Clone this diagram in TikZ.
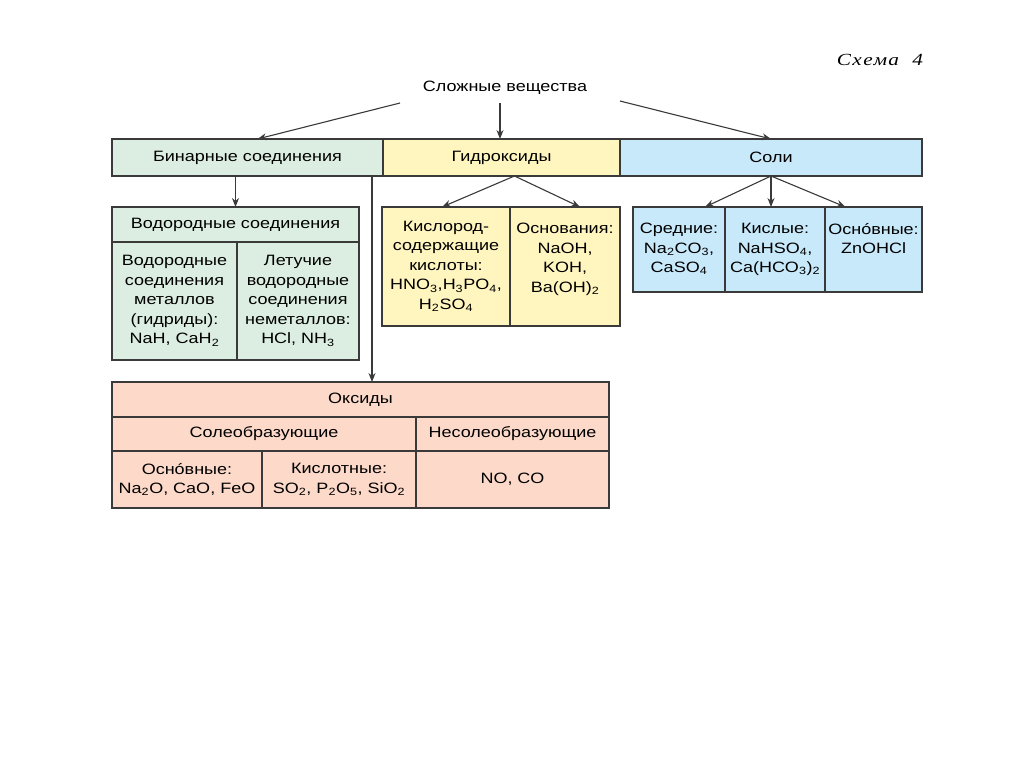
\documentclass[tikz,border=0pt]{standalone}
\usepackage{fontspec}
\setmainfont{Liberation Sans}[FakeStretch=1.2]
\newfontfamily\schemafont{Liberation Serif}[FakeStretch=1.25, LetterSpace=8]
\usetikzlibrary{arrows.meta}

\definecolor{binfill}{HTML}{DCEEE1}
\definecolor{hydfill}{HTML}{FFF5BE}
\definecolor{solfill}{HTML}{C8E9FA}
\definecolor{oksfill}{HTML}{FCD9C9}
\definecolor{edgegray}{HTML}{3A3A3A}

\newcommand{\subidx}[1]{\textsubscript{#1}}

\tikzset{
  cell/.style={draw=edgegray, line width=1.3pt, inner sep=0pt, outer sep=0pt, anchor=north west, align=center},
  txt/.style={align=center, inner sep=0pt},
  arr/.style={-{Stealth[length=9pt,width=7pt]}, line width=1.1pt, draw=edgegray},
}

\begin{document}
\begin{tikzpicture}[x=1pt, y=-1pt, font=\fontsize{15}{19.5}\selectfont]
  \useasboundingbox[fill=white] (0,0) rectangle (1024,768);

  \node[txt] (schema) at (880,60) {\schemafont\itshape\fontsize{17}{20}\selectfont Схема\ \ 4};
  \node[txt] (slozh) at (505,88) {Сложные вещества};

  % top row
  \node[cell, minimum width=271pt, minimum height=37pt] (bin) at (112,139) [fill=binfill] {Бинарные соединения};
  \node[cell, minimum width=237pt, minimum height=37pt] (hyd) at (383,139) [fill=hydfill] {Гидроксиды};
  \node[cell, minimum width=302pt, minimum height=37pt] (sol) at (620,139) [fill=solfill] {Соли};

  % binary compounds
  \node[cell, minimum width=247pt, minimum height=35pt] (vodh) at (112,207) [fill=binfill] {Водородные соединения};
  \node[cell, minimum width=125pt, minimum height=118pt] (vodm) at (112,242) [fill=binfill] {Водородные\\соединения\\металлов\\(гидриды):\\NaH,\ CaH\subidx{2}};
  \node[cell, minimum width=122pt, minimum height=118pt] (letn) at (237,242) [fill=binfill] {Летучие\\водородные\\соединения\\неметаллов:\\HCl,\ NH\subidx{3}};

  % hydroxides
  \node[cell, minimum width=128pt, minimum height=119pt] (kisl) at (382,207) [fill=hydfill] {Кислород-\\содержащие\\кислоты:\\HNO\subidx{3},H\subidx{3}PO\subidx{4},\\H\subidx{2}SO\subidx{4}};
  \node[cell, minimum width=110pt, minimum height=119pt] (osn) at (510,207) [fill=hydfill] {};
  \node[txt, anchor=north] (osn-t) at ([yshift=-16]osn.north) {Основания:\\NaOH,\\KOH,\\Ba(OH)\subidx{2}};

  % salts
  \node[cell, minimum width=92pt, minimum height=85pt] (sred) at (633,207) [fill=solfill] {};
  \node[cell, minimum width=100pt, minimum height=85pt] (kislsol) at (725,207) [fill=solfill] {};
  \node[cell, minimum width=97pt, minimum height=85pt] (osnsol) at (825,207) [fill=solfill] {};
  \node[txt, anchor=north] (sred-t) at ([yshift=-16]sred.north) {Средние:\\Na\subidx{2}CO\subidx{3},\\CaSO\subidx{4}};
  \node[txt, anchor=north] (kislsol-t) at ([yshift=-16]kislsol.north) {Кислые:\\NaHSO\subidx{4},\\Ca(HCO\subidx{3})\subidx{2}};
  \node[txt, anchor=north] (osnsol-t) at ([yshift=-16]osnsol.north) {Оснóвные:\\ZnOHCl};

  % oxides
  \node[cell, minimum width=497pt, minimum height=35pt] (oks) at (112,382) [fill=oksfill] {Оксиды};
  \node[cell, minimum width=304pt, minimum height=34pt] (soleo) at (112,417) [fill=oksfill] {Солеобразующие};
  \node[cell, minimum width=193pt, minimum height=34pt] (nesoleo) at (416,417) [fill=oksfill] {Несолеобразующие};
  \node[cell, minimum width=150pt, minimum height=57pt] (osnoks) at (112,451) [fill=oksfill] {Оснóвные:\\Na\subidx{2}O,\ CaO,\ FeO};
  \node[cell, minimum width=154pt, minimum height=57pt] (kisloks) at (262,451) [fill=oksfill] {Кислотные:\\SO\subidx{2},\ P\subidx{2}O\subidx{5},\ SiO\subidx{2}};
  \node[cell, minimum width=193pt, minimum height=57pt] (nooks) at (416,451) [fill=oksfill] {NO,\ CO};

  % arrow ends
  \coordinate (sl-l) at (400,103);
  \coordinate (sl-m) at (500,103);
  \coordinate (sl-r) at (620,101);
  \coordinate (bin-in) at ([xshift=10]bin.north);
  \coordinate (hyd-in) at (sl-m |- hyd.north);
  \coordinate (sol-in) at (sol.north);
  \coordinate (bin-out) at (vodh.north |- bin.south);
  \coordinate (oks-out) at ([xshift=-11]bin.south east);
  \coordinate (oks-in) at (oks-out |- oks.north);
  \coordinate (hyd-out) at ([xshift=13]hyd.south);
  \coordinate (kisl-in) at ([xshift=-4]kisl.north);
  \coordinate (osn-in) at ([xshift=15]osn.north);
  \coordinate (sred-in) at ([xshift=26]sred.north);
  \coordinate (kislsol-in) at (sol.south |- kislsol.north);
  \coordinate (osnsol-in) at ([xshift=-28]osnsol.north);

  \foreach \source/\dest in {sl-l/bin-in, sl-m/hyd-in, sl-r/sol-in, bin-out/vodh.north, oks-out/oks-in, hyd-out/kisl-in, hyd-out/osn-in, sol.south/sred-in, sol.south/kislsol-in, sol.south/osnsol-in}
    \draw[arr] (\source) -- (\dest);
\end{tikzpicture}
\end{document}
